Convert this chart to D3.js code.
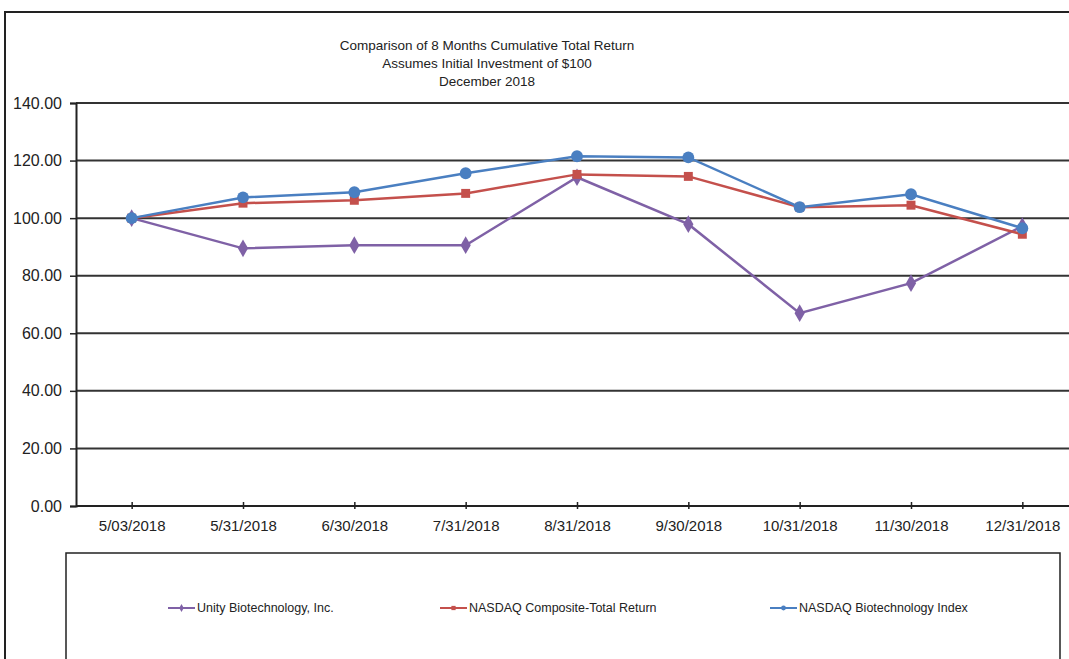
<!DOCTYPE html>
<html>
<head>
<meta charset="utf-8">
<script src="https://cdn.jsdelivr.net/npm/d3@7"></script>
<style>
  body { margin: 0; background: #fff; }
  svg { display: block; font-family: "Liberation Sans", Arial, sans-serif; }
</style>
</head>
<body>
<svg id="chart" width="1069" height="659"></svg>
<script>
var titleLines = ["Comparison of 8 Months Cumulative Total Return",
  "Assumes Initial Investment of $100", "December 2018"];
var dates = ["5/03/2018", "5/31/2018", "6/30/2018", "7/31/2018", "8/31/2018",
  "9/30/2018", "10/31/2018", "11/30/2018", "12/31/2018"];
var yTicks = [0, 20, 40, 60, 80, 100, 120, 140];
var unity = [100, 89.5, 90.6, 90.6, 114.2, 97.9, 67.0, 77.4, 97.2];
var composite = [100, 105.2, 106.2, 108.6, 115.2, 114.5, 103.8, 104.5, 94.4];
var biotech = [100, 107.2, 109.0, 115.6, 121.5, 121.1, 103.8, 108.3, 96.5];

var series = [
  { name: "Unity Biotechnology, Inc.", values: unity, color: "#7f61a6", symbol: d3.symbolDiamond, size: 90, legendX: 168 },
  { name: "NASDAQ Composite-Total Return", values: composite, color: "#c4504c", symbol: d3.symbolSquare, size: 80, legendX: 440 },
  { name: "NASDAQ Biotechnology Index", values: biotech, color: "#4a7fc1", symbol: d3.symbolCircle, size: 110, legendX: 770 }
];

var svg = d3.select("#chart");
var plotLeft = 76, plotRight = 1078, plotTop = 103, plotBottom = 506;

// outer frame
svg.append("path")
  .attr("d", "M5,659V12H1069")
  .attr("fill", "none").attr("stroke", "#222").attr("stroke-width", 2);

var title = svg.append("text")
  .attr("text-anchor", "middle").attr("font-size", 13.5).attr("fill", "#222");
titleLines.forEach(function (t, i) {
  title.append("tspan").attr("x", 487).attr("y", 50 + i * 18).text(t);
});

var x = d3.scalePoint().domain(dates).range([plotLeft, plotRight]).padding(0.5);
var y = d3.scaleLinear().domain([0, 140]).range([plotBottom, plotTop]);

// gridlines
svg.append("g").selectAll("line").data(yTicks.filter(function (d) { return d > 0; }))
  .join("line")
  .attr("x1", plotLeft).attr("x2", 1069)
  .attr("y1", y).attr("y2", y)
  .attr("stroke", "#333").attr("stroke-width", 2);

var yAxis = svg.append("g").attr("transform", "translate(" + plotLeft + ",0)")
  .call(d3.axisLeft(y).tickValues(yTicks).tickSize(6).tickPadding(8)
    .tickFormat(d3.format(".2f")));
yAxis.select(".domain").attr("stroke", "#222").attr("stroke-width", 2);
yAxis.selectAll(".tick line").attr("stroke", "#222").attr("stroke-width", 1.5);
yAxis.selectAll("text").attr("font-size", 16).attr("fill", "#222");

var xAxis = svg.append("g").attr("transform", "translate(0," + plotBottom + ")")
  .call(d3.axisBottom(x).tickSize(0).tickPadding(14));
xAxis.select(".domain").attr("d", "M" + plotLeft + ",0H1069")
  .attr("stroke", "#222").attr("stroke-width", 2);
xAxis.selectAll(".tick").append("line")
  .attr("y1", -4).attr("y2", 3).attr("stroke", "#222").attr("stroke-width", 1.5);
xAxis.selectAll("text").attr("font-size", 15).attr("fill", "#222");

var line = d3.line()
  .x(function (d, i) { return x(dates[i]); })
  .y(function (d) { return y(d); });

series.forEach(function (s) {
  var g = svg.append("g");
  g.append("path").datum(s.values)
    .attr("d", line).attr("fill", "none")
    .attr("stroke", s.color).attr("stroke-width", 2.5);
  g.selectAll("path.m").data(s.values).join("path")
    .attr("class", "m")
    .attr("transform", function (d, i) { return "translate(" + x(dates[i]) + "," + y(d) + ")"; })
    .attr("d", d3.symbol().type(s.symbol).size(s.size))
    .attr("fill", s.color);
});

// legend box
svg.append("path")
  .attr("d", "M66,659V553H1060V659")
  .attr("fill", "none").attr("stroke", "#222").attr("stroke-width", 1.5);

var legend = svg.append("g").selectAll("g").data(series).join("g")
  .attr("transform", function (s) { return "translate(" + s.legendX + ",608)"; });
legend.append("line").attr("x1", 0).attr("x2", 27)
  .attr("stroke", function (s) { return s.color; }).attr("stroke-width", 2);
legend.append("path").attr("transform", "translate(13.5,0)")
  .attr("d", function (s) { return d3.symbol().type(s.symbol).size(18)(); })
  .attr("fill", function (s) { return s.color; });
legend.append("text").attr("x", 29).attr("dy", "0.35em")
  .attr("font-size", 12.5).attr("fill", "#222")
  .text(function (s) { return s.name; });
</script>
</body>
</html>
